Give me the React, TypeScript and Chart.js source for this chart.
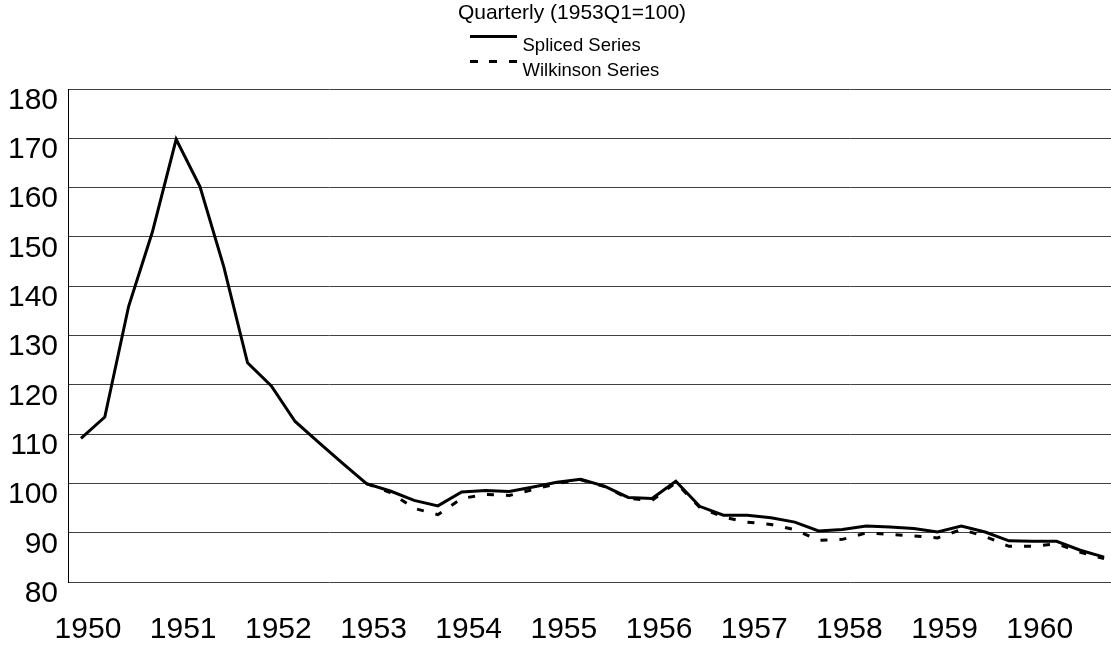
import React, { useEffect, useRef } from "react";
import { Chart, registerables } from "chart.js";

Chart.register(...registerables);

const subtitleText = "Quarterly (1953Q1=100)";
const seriesNames = ["Spliced Series", "Wilkinson Series"];
const yearLabels = ["1950", "1951", "1952", "1953", "1954", "1955", "1956", "1957", "1958", "1959", "1960"];
const yearTickIndex = [0, 4, 8, 12, 16, 20, 24, 28, 32, 36, 40];

// Quarterly values, 1950Q1 .. 1960Q4
const splicedValues = [
  109.2, 113.5, 135.9, 151.0, 169.8, 160.2, 144.0, 124.5, 119.8, 112.6, 108.3, 104.1,
  100.0, 98.5, 96.6, 95.5, 98.3, 98.6, 98.4, 99.3, 100.3, 100.9, 99.5, 97.2,
  97.0, 100.5, 95.4, 93.6, 93.6, 93.1, 92.2, 90.4, 90.7, 91.4, 91.2, 90.9,
  90.2, 91.4, 90.2, 88.4, 88.3, 88.3, 86.5, 85.1,
];
const wilkinsonValues = [
  null, null, null, null, null, null, null, null, null, null, null, null,
  100.0, 98.2, 95.0, 93.7, 97.0, 97.8, 97.6, 98.8, 100.0, 100.8, 99.4, 97.0,
  96.6, 100.2, 95.2, 93.2, 92.2, 91.7, 90.7, 88.5, 88.7, 90.0, 89.7, 89.4,
  89.0, 90.7, 89.3, 87.3, 87.3, 87.8, 86.1, 84.8,
];

const FONT = "'Liberation Sans', Arial, Helvetica, sans-serif";

export default function App() {
  const canvasRef = useRef<HTMLCanvasElement | null>(null);

  useEffect(() => {
    if (!canvasRef.current) return;
    const toPoints = (arr: (number | null)[]) => arr.map((v, i) => ({ x: i, y: v }));
    const chart = new Chart(canvasRef.current, {
      type: "line",
      data: {
        datasets: [
          {
            label: seriesNames[0],
            data: toPoints(splicedValues) as any,
            borderColor: "#000000",
            borderWidth: 3,
            pointRadius: 0,
            tension: 0,
            borderJoinStyle: "miter",
            fill: false,
          },
          {
            label: seriesNames[1],
            data: toPoints(wilkinsonValues) as any,
            borderColor: "#000000",
            borderWidth: 3,
            borderDash: [7, 12],
            pointRadius: 0,
            tension: 0,
            borderJoinStyle: "miter",
            fill: false,
            spanGaps: false,
          },
        ],
      },
      options: {
        animation: false,
        responsive: false,
        maintainAspectRatio: false,
        layout: { padding: { top: 89, left: 0, right: 0, bottom: 0 } },
        plugins: {
          legend: { display: false },
          title: { display: false },
          tooltip: { enabled: false },
        },
        scales: {
          x: {
            type: "linear",
            min: -0.546,
            max: 43.29,
            afterBuildTicks: (axis: any) => {
              axis.ticks = yearTickIndex.map((v) => ({ value: v }));
            },
            afterFit: (axis: any) => {
              axis.height = 66.7;
            },
            grid: { display: false, drawTicks: false },
            border: { display: false },
            ticks: {
              autoSkip: false,
              maxRotation: 0,
              padding: 29,
              labelOffset: 7,
              color: "#000000",
              font: { family: FONT, size: 30 },
              callback: (_v: any, i: number) => yearLabels[i],
            },
          },
          y: {
            type: "linear",
            min: 80,
            max: 180,
            afterFit: (axis: any) => {
              axis.width = 68;
            },
            grid: { color: "#404040", lineWidth: 1, drawTicks: false },
            border: { display: true, color: "#000000", width: 1 },
            ticks: {
              stepSize: 10,
              padding: 10,
              labelOffset: 11.5,
              color: "#000000",
              font: { family: FONT, size: 30 },
            },
          },
        },
      },
    });
    return () => chart.destroy();
  }, []);

  const legendRow = (top: number, dashed: boolean, text: string, textTop: number) => (
    <>
      <div
        style={{
          position: "absolute",
          left: 470,
          top: top,
          width: 47,
          height: 3,
          background: dashed
            ? "repeating-linear-gradient(to right, #000 0px, #000 8px, transparent 8px, transparent 19.5px)"
            : "#000",
        }}
      />
      <div
        style={{
          position: "absolute",
          left: 522.5,
          top: textTop,
          fontFamily: FONT,
          fontSize: 18.5,
          lineHeight: "18.5px",
          color: "#000",
          whiteSpace: "nowrap",
        }}
      >
        {text}
      </div>
    </>
  );

  return (
    <div
      style={{
        position: "fixed",
        left: 0,
        top: 0,
        width: 1111,
        height: 649,
        background: "#ffffff",
        overflow: "hidden",
      }}
    >
      <canvas ref={canvasRef} width={1111} height={649} style={{ position: "absolute", left: 0, top: 0 }} />
      <div
        style={{
          position: "absolute",
          left: 272,
          top: 0.8,
          width: 600,
          textAlign: "center",
          fontFamily: FONT,
          fontSize: 21,
          lineHeight: "21px",
          color: "#000",
        }}
      >
        {subtitleText}
      </div>
      {legendRow(34.5, false, seriesNames[0], 35.5)}
      {legendRow(60.2, true, seriesNames[1], 61)}
    </div>
  );
}
